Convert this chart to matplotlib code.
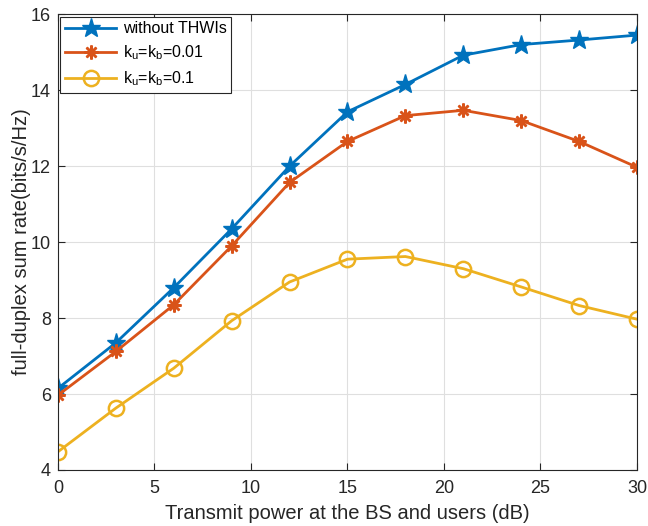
import matplotlib
matplotlib.use('Agg')
from matplotlib import pyplot as plt

plt.rcParams['font.family'] = ['Liberation Sans', 'DejaVu Sans']

power_db = [0, 3, 6, 9, 12, 15, 18, 21, 24, 27, 30]
rate_ideal = [6.15, 7.35, 8.8, 10.35, 12.0, 13.43, 14.15, 14.92, 15.2, 15.32, 15.45]
rate_k001 = [5.97, 7.12, 8.35, 9.9, 11.57, 12.65, 13.33, 13.47, 13.2, 12.65, 11.97]
rate_k01 = [4.48, 5.63, 6.68, 7.93, 8.95, 9.55, 9.62, 9.3, 8.82, 8.33, 7.97]

labels = ['without THWIs',
          r'$\mathregular{k_u}$=$\mathregular{k_b}$=0.01',
          r'$\mathregular{k_u}$=$\mathregular{k_b}$=0.1']

axis_col = '#262626'

fig = plt.figure(figsize=(6.48, 5.26), dpi=100)
ax = fig.add_axes([0.0895, 0.1065, 0.8935, 0.8665])

ax.plot(power_db, rate_ideal, color='#0072BD', lw=2, marker='*', ms=14,
        label=labels[0])
ax.plot(power_db, rate_k001, color='#D95319', lw=2, marker=(8, 2, 0), ms=10,
        mew=1.8, label=labels[1])
ax.plot(power_db, rate_k01, color='#EDB120', lw=2, marker='o', ms=11,
        mfc='none', mew=1.8, label=labels[2])

ax.set_xlim(0, 30)
ax.set_ylim(4, 16)
ax.set_xticks(range(0, 31, 5))
ax.set_yticks(range(4, 17, 2))
ax.grid(True, color='#dfdfdf', lw=0.8)
ax.set_axisbelow(True)
ax.tick_params(direction='in', top=True, right=True, colors=axis_col,
               labelsize=13, length=5, width=0.8)
ax.tick_params(axis='x', pad=7)
ax.tick_params(axis='y', pad=5)
for s in ax.spines.values():
    s.set_color(axis_col)
    s.set_linewidth(0.8)

ax.set_xlabel('Transmit power at the BS and users (dB)', fontsize=14.5,
              color=axis_col, labelpad=5)
ax.set_ylabel('full-duplex sum rate(bits/s/Hz)', fontsize=14.5,
              color=axis_col, labelpad=0)

leg = ax.legend(loc='upper left', fontsize=11.5, fancybox=False,
                edgecolor=axis_col, framealpha=1, borderaxespad=0.15,
                handlelength=3.2, labelspacing=0.45, borderpad=0.3,
                handletextpad=0.4)
leg.get_frame().set_linewidth(0.8)

plt.savefig('out.png', dpi=100)
